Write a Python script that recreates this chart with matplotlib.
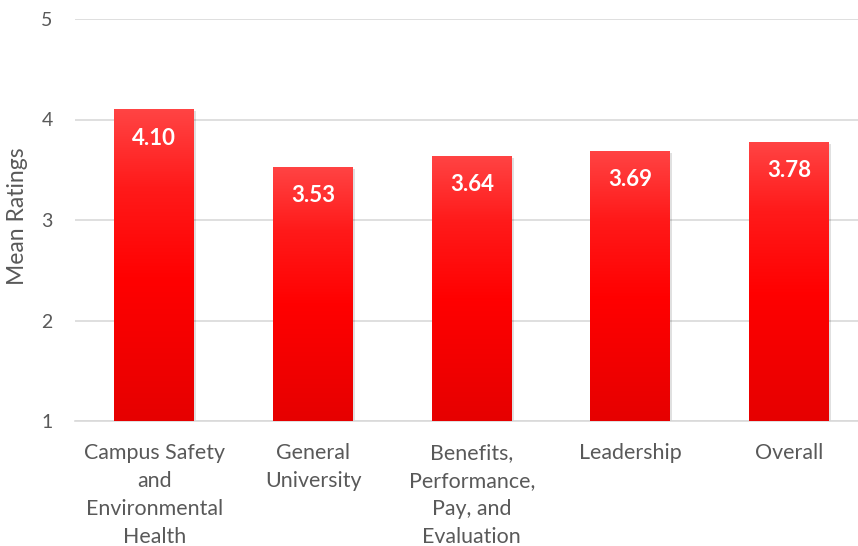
import matplotlib
matplotlib.use("Agg")
import matplotlib.pyplot as plt
import numpy as np
from matplotlib.colors import LinearSegmentedColormap
from matplotlib.patches import Rectangle

categories = ["Campus Safety\nand\nEnvironmental\nHealth", "General\nUniversity",
              "Benefits,\nPerformance,\nPay, and\nEvaluation", "Leadership", "Overall"]
values = [4.10, 3.53, 3.64, 3.69, 3.78]
labels = ["4.10", "3.53", "3.64", "3.69", "3.78"]
yticks = [1, 2, 3, 4, 5]

plt.rcParams['font.family'] = ['Lato', 'DejaVu Sans']

fig = plt.figure(figsize=(8.58, 5.46), dpi=100)
ax = fig.add_axes([75/858, 125/546, 783/858, 402/546])
ax.set_xlim(-0.5, 4.434)
ax.set_ylim(1, 5)

cmap = LinearSegmentedColormap.from_list("g", [(0, "#e60000"), (0.45, "#ff0000"), (0.75, "#ff1a1a"), (1, "#ff4444")])
grad = np.linspace(0, 1, 256).reshape(-1, 1)
w = 0.504
bars = ax.bar(range(len(values)), values, width=w, bottom=0, color="none", zorder=3)
for i, (b, v) in enumerate(zip(bars, values)):
    x0 = i - w/2
    sh = Rectangle((x0 + 0.012, 1), w, v - 1 - 0.02, facecolor="#000000", alpha=0.12, zorder=2, edgecolor="none")
    ax.add_patch(sh)
    im = ax.imshow(grad, extent=[x0, x0 + w, 1, v], origin="lower", aspect="auto", cmap=cmap, zorder=3)
    clip = Rectangle((x0, 1), w, v - 1, transform=ax.transData, facecolor="none", edgecolor="none")
    ax.add_patch(clip)
    im.set_clip_path(clip)
    ax.text(i, v - 0.29, labels[i], ha="center", va="center", color="white", fontsize=16, fontweight="bold", zorder=5)

ax.set_xlim(-0.5, 4.434)
ax.set_ylim(1, 5)
ax.set_yticks(yticks)
ax.set_yticklabels([str(t) for t in yticks], fontsize=14, color="#595959")
ax.set_xticks(range(len(categories)))
ax.set_xticklabels(categories, fontsize=15.4, color="#595959", linespacing=1.5, va="top")
ax.tick_params(axis="both", length=0)
ax.tick_params(axis="y", pad=16)
ax.tick_params(axis="x", pad=16)
ax.grid(axis="y", color="#d9d9d9", linewidth=1.2, zorder=0)
ax.set_axisbelow(True)
for s in ["top", "right", "left"]:
    ax.spines[s].set_visible(False)
ax.spines["bottom"].set_color("#d9d9d9")
ax.spines["bottom"].set_linewidth(1.2)
ax.set_ylabel("Mean Ratings", fontsize=16.5, color="#595959")
ax.yaxis.set_label_coords((18 - 75) / 783, 0.51)
ax.yaxis.label.set_va("center")

fig.savefig("out.png", dpi=100)
